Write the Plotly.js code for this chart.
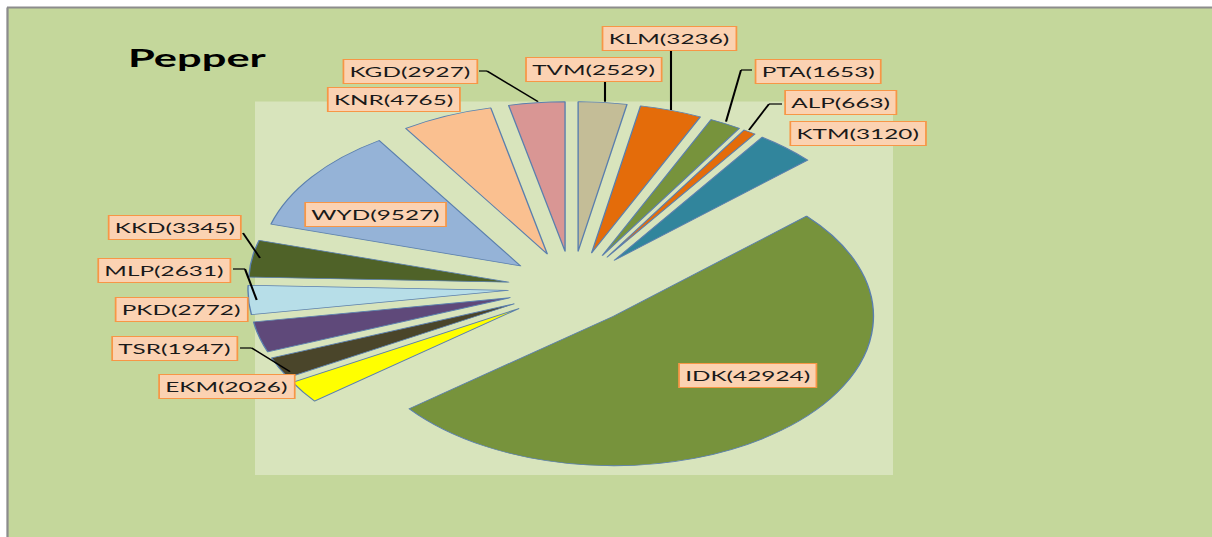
<!DOCTYPE html>
<html>
<head>
<meta charset="utf-8">
<script src="https://cdn.plot.ly/plotly-3.0.1.min.js"></script>
<style>
  html, body { margin: 0; padding: 0; background: #ffffff; overflow: hidden; }
  #chart { width: 697px; height: 537px; transform: scaleX(1.738881); transform-origin: 0 0; }
</style>
</head>
<body>
<div id="chart"></div>
<script>
// ---- data ----
const districts = ['TVM', 'KLM', 'PTA', 'ALP', 'KTM', 'IDK', 'EKM', 'TSR', 'PKD', 'MLP', 'KKD', 'WYD', 'KNR', 'KGD'];
const production = [2529, 3236, 1653, 663, 3120, 42924, 2026, 1947, 2772, 2631, 3345, 9527, 4765, 2927];
const chartTitle = 'Pepper';

// ---- styles ----
const sliceColors = ['#c4bd97', '#e46c0a', '#77933c', '#e46c0a', '#31859c', '#77933c', '#ffff00',
                     '#4a452a', '#5f497a', '#b7dee8', '#4f6228', '#95b3d7', '#fac090', '#d99694'];

// ---- layout positions (reference pixel space 1212 x 537) ----
const IMG_W = 1212, IMG_H = 537;
const labelCenters = {
  TVM: [594, 69], KLM: [670, 38], PTA: [818, 71.5], ALP: [840, 103], KTM: [858, 133],
  IDK: [748.5, 375], EKM: [227.5, 386], TSR: [175, 348.7], PKD: [181, 309], MLP: [164, 270],
  KKD: [175.5, 227], WYD: [375, 214], KNR: [394, 99.5], KGD: [411, 71]
};
const leaderPaths = [
  [[479, 71], [487, 71], [538, 101.7]],
  [[605, 82], [605, 101.7]],
  [[671, 50], [671, 110]],
  [[752, 70], [741, 70], [726, 121.7]],
  [[782, 104], [769, 104], [749, 130]],
  [[243, 233], [260, 258]],
  [[233, 269], [245, 269], [256.7, 300]],
  [[240, 348], [251.7, 348], [290, 371.7]]
];
const px = v => v / IMG_W;
const py = v => 1 - v / IMG_H;

const trace = {
  type: 'pie',
  labels: districts,
  values: production,
  sort: false,
  direction: 'clockwise',
  rotation: 0,
  pull: 0.247,
  textinfo: 'none',
  hoverinfo: 'none',
  marker: { colors: sliceColors, line: { color: '#5a7fae', width: 0.8 } },
  domain: { x: [0.2045, 0.7395], y: [0.1155, 0.8119] },
  showlegend: false
};

const annotations = districts.map((d, i) => ({
  xref: 'paper', yref: 'paper',
  x: px(labelCenters[d][0]), y: py(labelCenters[d][1]),
  xanchor: 'center', yanchor: 'middle',
  text: d + '(' + production[i] + ')',
  showarrow: false,
  font: { family: 'Lato, Roboto, sans-serif', size: 14, color: '#1a1a1a' },
  bgcolor: '#fbd2b2',
  bordercolor: '#f79646',
  borderwidth: 1,
  borderpad: 3
}));

const shapes = [
  { type: 'rect', xref: 'paper', yref: 'paper', x0: px(8), x1: 1, y0: 0, y1: py(8),
    fillcolor: '#c4d79b', line: { width: 0 }, layer: 'below' },
  { type: 'rect', xref: 'paper', yref: 'paper', x0: px(255), x1: px(893), y0: py(475), y1: py(101.5),
    fillcolor: '#d8e4bc', line: { width: 0 }, layer: 'below' },
  { type: 'line', xref: 'paper', yref: 'paper', x0: px(7.5), x1: px(7.5), y0: 0, y1: py(7.5),
    line: { color: '#8c8c8c', width: 1.3 }, layer: 'below' },
  { type: 'line', xref: 'paper', yref: 'paper', x0: px(7), x1: 1, y0: py(7.5), y1: py(7.5),
    line: { color: '#8c8c8c', width: 2 }, layer: 'below' }
];
leaderPaths.forEach(pts => {
  for (let k = 0; k < pts.length - 1; k++) {
    shapes.push({ type: 'line', xref: 'paper', yref: 'paper',
      x0: px(pts[k][0]), y0: py(pts[k][1]), x1: px(pts[k + 1][0]), y1: py(pts[k + 1][1]),
      line: { color: '#000000', width: 1.2 }, layer: 'above' });
  }
});

const layout = {
  width: 697, height: 537,
  margin: { l: 0, r: 0, t: 0, b: 0 },
  paper_bgcolor: '#ffffff',
  title: {
    text: chartTitle,
    font: { family: 'Lato, Roboto, sans-serif', size: 25, color: '#000000', weight: 700 },
    xref: 'paper', x: px(128), xanchor: 'left',
    yref: 'container', y: py(58), yanchor: 'middle'
  },
  shapes: shapes,
  annotations: annotations
};

Plotly.newPlot('chart', [trace], layout, { staticPlot: true, displayModeBar: false });
</script>
</body>
</html>
